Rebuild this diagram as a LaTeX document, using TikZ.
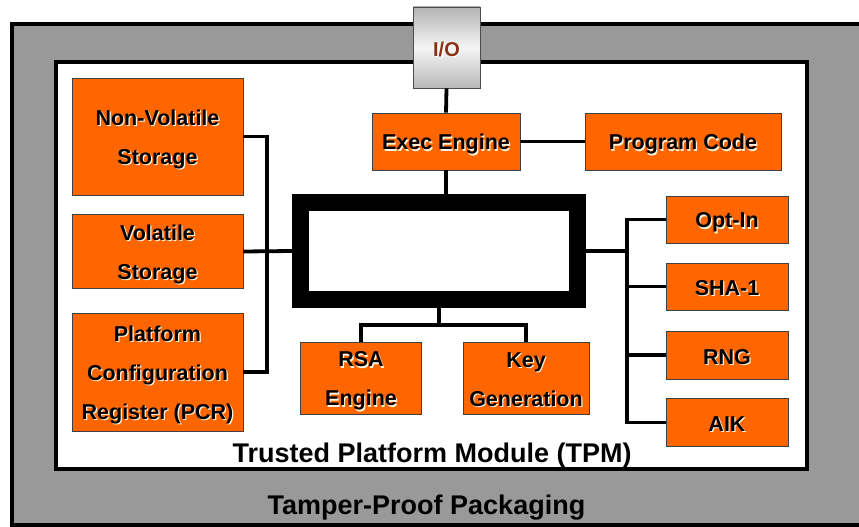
\documentclass[tikz,border=0pt]{standalone}
\usepackage{fontspec}
\setmainfont{Liberation Sans}
\definecolor{tpmorange}{HTML}{FF6600}
\definecolor{pkggray}{HTML}{999999}
\definecolor{shadowc}{HTML}{FFF6E0}
\definecolor{iotext}{HTML}{8A3015}
\newcommand\shtxt[1]{\makebox[0pt][l]{\hspace{1.2pt}\raisebox{-1.2pt}{\color{shadowc}#1}}#1}
\newcommand\shwhite[1]{\makebox[0pt][l]{\hspace{1.2pt}\raisebox{-1.2pt}{\color{white}#1}}#1}
\newcommand\strOne{\rule[-4.5pt]{0pt}{27pt}}
\newcommand\strTop{\rule{0pt}{22.5pt}}
\newcommand\strBot{\rule[-4.5pt]{0pt}{4.5pt}}
\begin{document}
\begin{tikzpicture}[x=1pt,y=-1pt,
  blk/.style={draw=black!75, line width=0.8pt, fill=tpmorange, inner sep=0pt, align=center,
    font=\fontsize{21.5}{39}\selectfont\bfseries},
  conn/.style={line width=3.8pt},
  big/.style={font=\fontsize{27}{30}\selectfont\bfseries, inner sep=0pt, anchor=base}]
\useasboundingbox (0,0) rectangle (859,527);
% packaging and module frames
\draw[line width=4.5pt, fill=pkggray] (12,24) rectangle (900,525);
\draw[line width=4pt, fill=white] (56,62) rectangle (807,469);
% nodes
\node[draw=black!70, line width=0.8pt, minimum width=67pt, minimum height=81pt, inner sep=0pt,
  top color=gray!60, bottom color=gray!55, middle color=gray!8,
  font=\fontsize{20}{24}\selectfont\bfseries, text=iotext] (io) at (446.5,47.5) {\strOne\shwhite{I/O}};
\node[blk, minimum width=148pt, minimum height=57pt] (exec) at (446,141.5) {\strOne\shtxt{Exec Engine}};
\node[blk, minimum width=196pt, minimum height=57pt] (prog) at (683,141.5) {\strOne\shtxt{Program Code}};
\node[blk, minimum width=171pt, minimum height=117pt] (nvs) at (157.5,136.5) {\strTop\shtxt{Non-Volatile}\\\strBot\shtxt{Storage}};
\node[blk, minimum width=171pt, minimum height=74pt] (vs) at (157.5,251.5) {\strTop\shtxt{Volatile}\\\strBot\shtxt{Storage}};
\node[blk, minimum width=171pt, minimum height=118pt] (pcr) at (157.5,372) {\strTop\shtxt{Platform}\\\shtxt{Configuration}\\\strBot\shtxt{Register (PCR)}};
\node[draw, line width=17pt, fill=white, minimum width=277pt, minimum height=97pt, inner sep=0pt] (core) at (439,251) {};
\node[blk, minimum width=121pt, minimum height=72pt] (rsa) at (361,378) {\strTop\shtxt{RSA}\\\strBot\shtxt{Engine}};
\node[blk, minimum width=126pt, minimum height=72pt] (key) at (526,378) {\strTop\shtxt{Key}\\\strBot\shtxt{Generation}};
\node[blk, minimum width=122pt, minimum height=47pt] (optin) at (727,219.5) {\strOne\shtxt{Opt-In}};
\node[blk, minimum width=122pt, minimum height=47pt] (sha) at (727,286.5) {\strOne\shtxt{SHA-1}};
\node[blk, minimum width=122pt, minimum height=48pt] (rng) at (727,355) {\strOne\shtxt{RNG}};
\node[blk, minimum width=122pt, minimum height=48pt] (aik) at (727,422.5) {\strOne\shtxt{AIK}};
\node[big] (tpm) at (432,462) {Trusted Platform Module (TPM)};
\node[big] (pkg) at (426.5,514) {Tamper-Proof Packaging};
% connectors
\coordinate (lbus) at (267,0);
\coordinate (rbus) at (627,0);
\path (core.south) ++(0,17) coordinate (bj);
\draw[conn] (io.south) -- (exec.north);
\draw[conn] (exec.east) -- (prog.west);
\draw[conn] (exec.south) -- (exec.south |- core.north);
\draw[conn] (nvs.east) -- (nvs.east -| lbus) -- (pcr.east -| lbus) -- (pcr.east);
\draw[conn] (vs.east) -- (core.west);
\draw[conn] (core.east) -- (core.east -| rbus);
\draw[conn] (optin.west) -- (optin.west -| rbus) -- (aik.west -| rbus) -- (aik.west);
\draw[conn] (sha.west) -- (sha.west -| rbus);
\draw[conn] (rng.west) -- (rng.west -| rbus);
\draw[conn] (core.south) -- (bj);
\draw[conn] (rsa.north) |- (bj) -| (key.north);
\end{tikzpicture}
\end{document}
